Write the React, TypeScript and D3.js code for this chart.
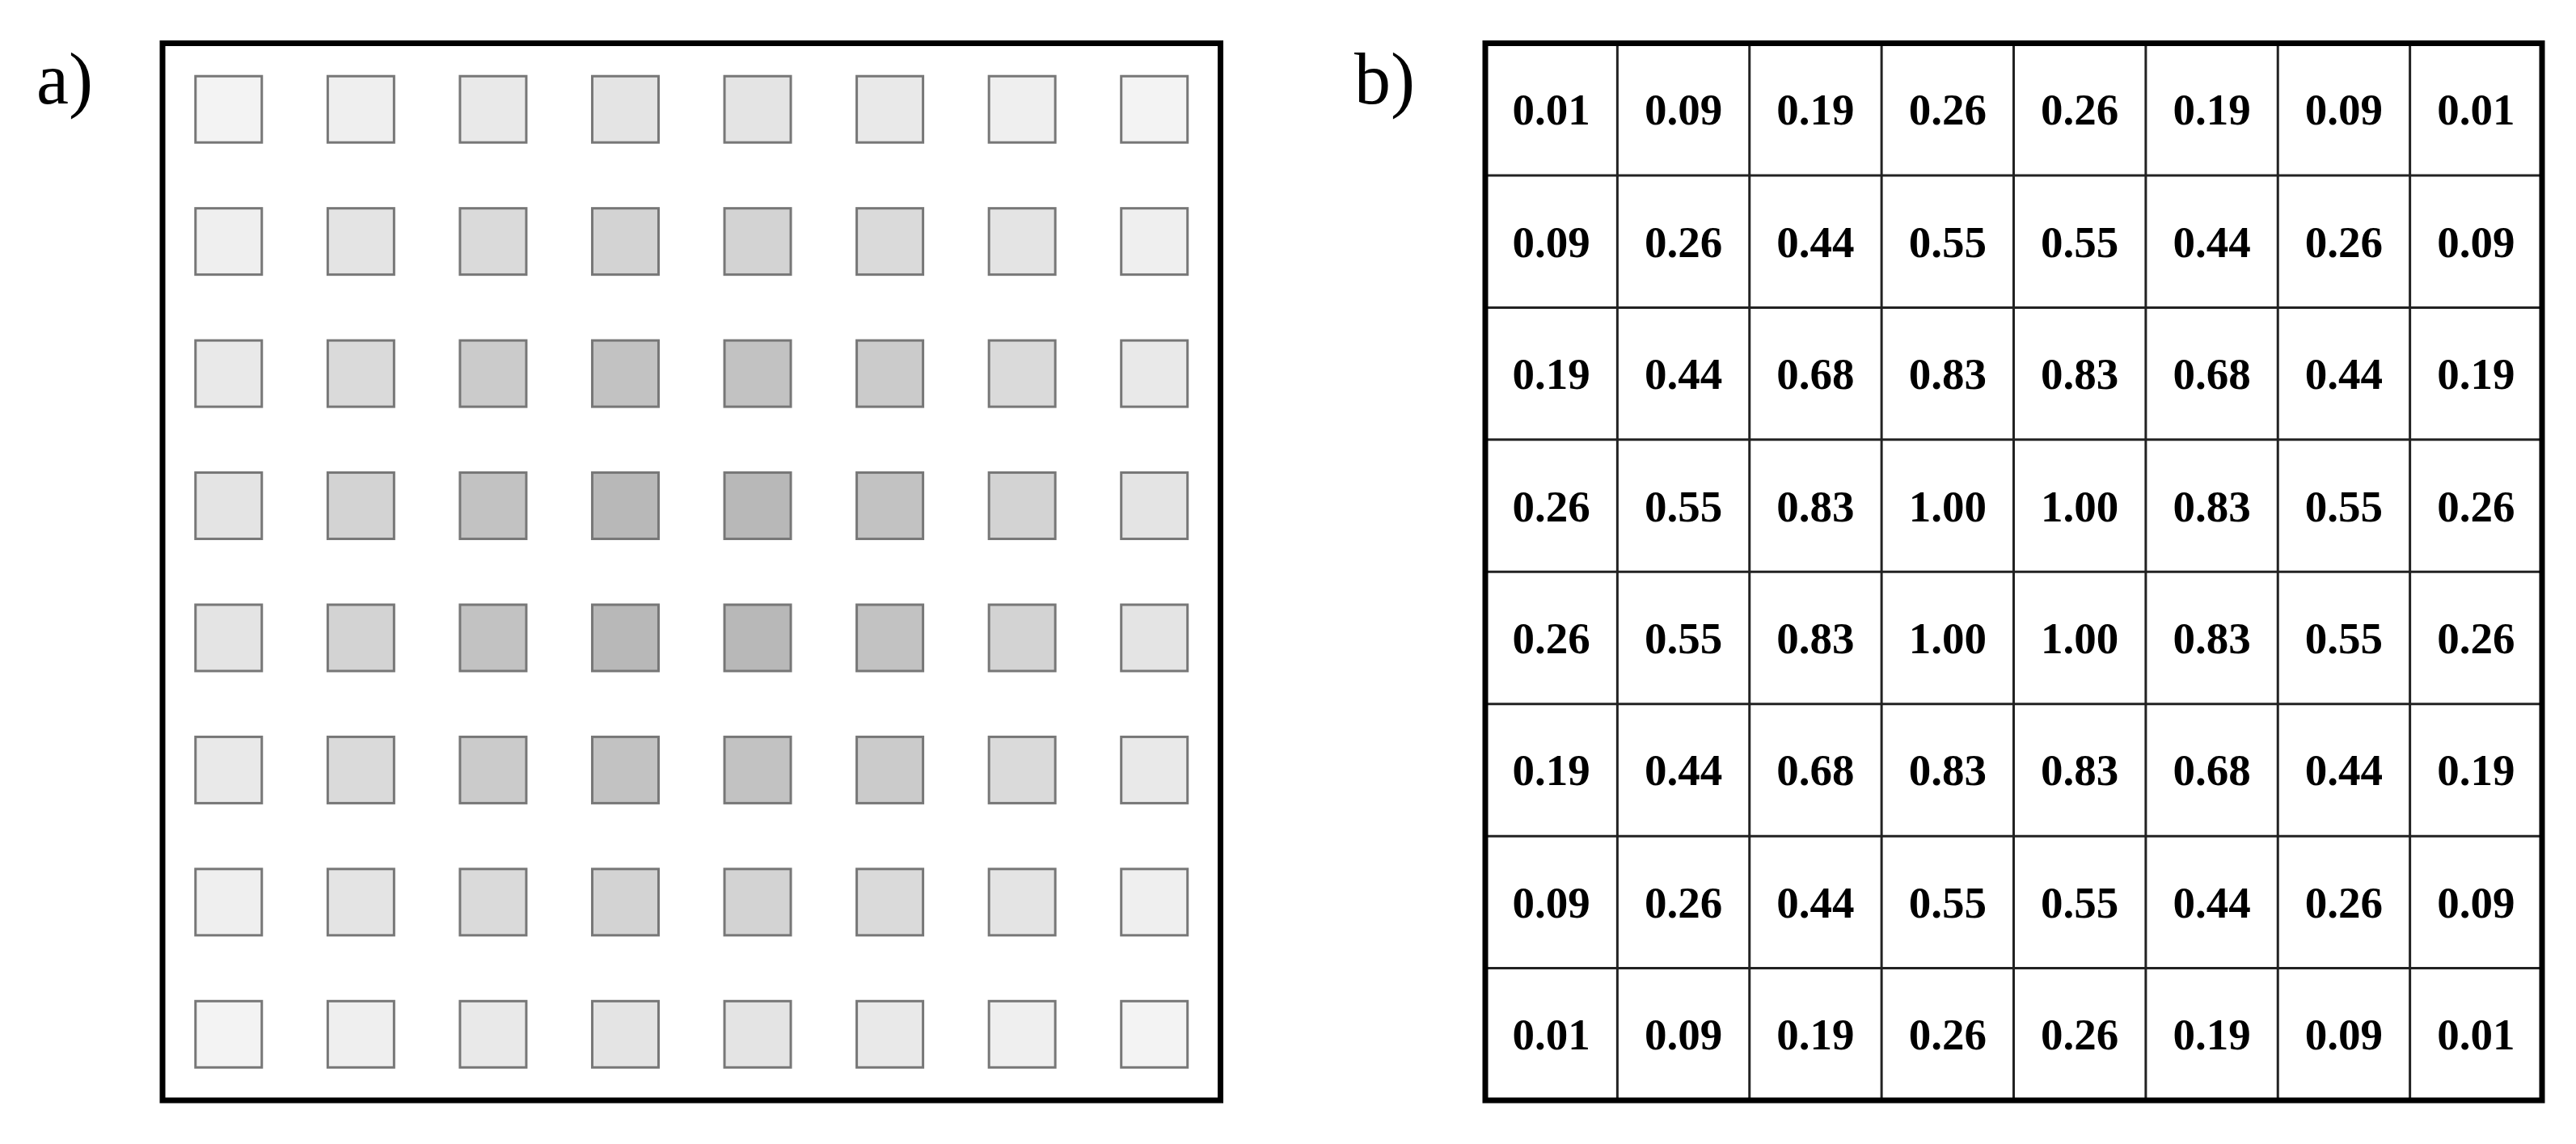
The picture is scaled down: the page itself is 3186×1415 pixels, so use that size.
import React from 'react';
import * as d3 from 'd3';

// 8x8 weights, shown as gray squares (a) and as a table (b)
const rowLabels = ['r1', 'r2', 'r3', 'r4', 'r5', 'r6', 'r7', 'r8'];
const colLabels = ['c1', 'c2', 'c3', 'c4', 'c5', 'c6', 'c7', 'c8'];
const weights = [
  [0.01, 0.09, 0.19, 0.26, 0.26, 0.19, 0.09, 0.01],
  [0.09, 0.26, 0.44, 0.55, 0.55, 0.44, 0.26, 0.09],
  [0.19, 0.44, 0.68, 0.83, 0.83, 0.68, 0.44, 0.19],
  [0.26, 0.55, 0.83, 1.0, 1.0, 0.83, 0.55, 0.26],
  [0.26, 0.55, 0.83, 1.0, 1.0, 0.83, 0.55, 0.26],
  [0.19, 0.44, 0.68, 0.83, 0.83, 0.68, 0.44, 0.19],
  [0.09, 0.26, 0.44, 0.55, 0.55, 0.44, 0.26, 0.09],
  [0.01, 0.09, 0.19, 0.26, 0.26, 0.19, 0.09, 0.01],
];
const panelLabels = ['a)', 'b)'];

const W = 3186;
const H = 1415;
const top = 53.5;
const bottom = 1361;
const leftA = 201;
const rightA = 1509.5;
const leftB = 1837;
const rightB = 3144;

const serif = '"Liberation Serif", "DejaVu Serif", serif';

function App() {
  const y = d3.scaleBand().domain(rowLabels).range([top, bottom]);
  const xA = d3.scaleBand().domain(colLabels).range([leftA, rightA]);
  const xB = d3.scaleBand().domain(colLabels).range([leftB, rightB]);
  const shade = d3.scaleLinear<string>().domain([0, 1]).range(['#f4f4f4', '#b8b8b8']);

  const sq = 82;
  const fmt = d3.format('.2f');

  return (
    <svg width={W} height={H} style={{ position: 'absolute', left: 0, top: 0, background: '#fff' }}>
      <text x={45} y={128} fontFamily={serif} fontSize={90}>{panelLabels[0]}</text>
      <text x={1675} y={128} fontFamily={serif} fontSize={90}>{panelLabels[1]}</text>

      {/* panel a */}
      {weights.map((row, i) =>
        row.map((v, j) => {
          const cx = xA(colLabels[j])! + xA.bandwidth() / 2;
          const cy = y(rowLabels[i])! + y.bandwidth() / 2;
          return (
            <rect key={`a${i}-${j}`} x={cx - sq / 2} y={cy - sq / 2} width={sq} height={sq}
              fill={shade(v)} stroke="#777" strokeWidth={3} />
          );
        })
      )}
      <rect x={leftA} y={top} width={rightA - leftA} height={bottom - top} fill="none" stroke="#000" strokeWidth={7} />

      {/* panel b */}
      {colLabels.slice(1).map((c) => (
        <line key={`v${c}`} x1={xB(c)} x2={xB(c)} y1={top} y2={bottom} stroke="#222" strokeWidth={3} />
      ))}
      {rowLabels.slice(1).map((r) => (
        <line key={`h${r}`} x1={leftB} x2={rightB} y1={y(r)} y2={y(r)} stroke="#222" strokeWidth={3} />
      ))}
      {weights.map((row, i) =>
        row.map((v, j) => (
          <text key={`b${i}-${j}`} x={xB(colLabels[j])! + xB.bandwidth() / 2}
            y={y(rowLabels[i])! + y.bandwidth() / 2 + 19}
            textAnchor="middle" fontFamily={serif} fontWeight="bold" fontSize={55}>
            {fmt(v)}
          </text>
        ))
      )}
      <rect x={leftB} y={top} width={rightB - leftB} height={bottom - top} fill="none" stroke="#000" strokeWidth={7} />
    </svg>
  );
}

export default App;
